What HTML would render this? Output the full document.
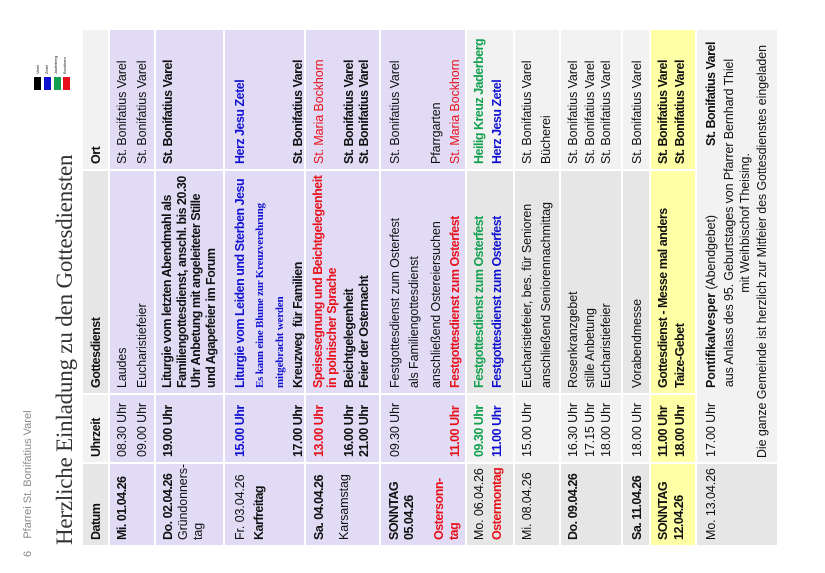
<!DOCTYPE html>
<html><head><meta charset="utf-8"><style>
html,body{margin:0;padding:0;background:#fff;width:825px;height:573px;overflow:hidden}
#f{position:absolute;left:0;top:573px;width:573px;height:825px;transform:rotate(-90deg);transform-origin:0 0;font-family:"Liberation Sans",sans-serif;}
.b{position:absolute}
.t{position:absolute;white-space:nowrap;font-size:12.5px;line-height:16px;letter-spacing:-0.1px;color:#111}
.k{font-weight:bold;letter-spacing:-0.5px}
.c1{left:33px}.c2{left:116px}.c3{left:185px}.c4{left:409px}
.L{background:#e1dbf5}.G{background:#e6e6e6}.W{background:#f2f2f2}.Y{background:#ffffa6}
.r{color:#e8101a}.bl{color:#1010d0}.g{color:#12a050}
.s{font-family:"Liberation Serif",serif;font-size:11px;font-weight:bold;letter-spacing:-0.2px}
</style></head><body><div id="f">
<div class="t" style="left:16px;top:20px;font-size:11px;color:#888;letter-spacing:0">6&nbsp;&nbsp;&nbsp;&nbsp;Pfarrei St. Bonifatius Varel</div>
<div class="t" style="left:28px;top:50px;font-family:'Liberation Serif',serif;font-size:23px;line-height:30px;letter-spacing:-0.2px;color:#333">Herzliche Einladung zu den Gottesdiensten</div>
<div class="b" style="left:483px;top:34px;width:13px;height:7px;background:#000"></div>
<div class="b" style="left:483px;top:44px;width:13px;height:7px;background:#1010d0"></div>
<div class="b" style="left:483px;top:54px;width:13px;height:7px;background:#12a050"></div>
<div class="b" style="left:483px;top:63px;width:13px;height:7px;background:#e8101a"></div>
<div class="t" style="left:499px;top:33px;font-size:4px;line-height:9px;letter-spacing:0">Varel<br>Zetel<br>Jaderberg<br>Bockhorn</div>

<!-- header -->
<div class="b G" style="left:28px;top:83px;width:81px;height:25px"></div>
<div class="b W" style="left:111px;top:83px;width:67px;height:25px"></div>
<div class="b G" style="left:180px;top:83px;width:222px;height:25px"></div>
<div class="b W" style="left:404px;top:83px;width:139px;height:25px"></div>
<div class="t k c1" style="top:88px">Datum</div><div class="t k c2" style="top:88px">Uhrzeit</div><div class="t k c3" style="top:88px">Gottesdienst</div><div class="t k c4" style="top:88px">Ort</div>

<!-- backgrounds -->
<div class="b L" style="left:28px;top:110px;width:81px;height:355px"></div>
<div class="b L" style="left:111px;top:110px;width:67px;height:355px"></div>
<div class="b L" style="left:180px;top:110px;width:222px;height:355px"></div>
<div class="b L" style="left:404px;top:110px;width:139px;height:355px"></div>
<div class="b" style="left:28px;top:154px;width:515px;height:2px;background:#fff"></div>
<div class="b" style="left:28px;top:223px;width:515px;height:2px;background:#fff"></div>
<div class="b" style="left:28px;top:304px;width:515px;height:2px;background:#fff"></div>
<div class="b" style="left:28px;top:379px;width:515px;height:2px;background:#fff"></div>

<div class="b G" style="left:28px;top:467px;width:81px;height:182px"></div>
<div class="b W" style="left:111px;top:467px;width:67px;height:182px"></div>
<div class="b G" style="left:180px;top:467px;width:222px;height:182px"></div>
<div class="b W" style="left:404px;top:467px;width:139px;height:182px"></div>
<div class="b" style="left:28px;top:513px;width:515px;height:2px;background:#fff"></div>
<div class="b" style="left:28px;top:559px;width:515px;height:2px;background:#fff"></div>
<div class="b" style="left:28px;top:621px;width:515px;height:2px;background:#fff"></div>

<div class="b Y" style="left:28px;top:651px;width:81px;height:44px"></div>
<div class="b Y" style="left:111px;top:651px;width:67px;height:44px"></div>
<div class="b Y" style="left:180px;top:651px;width:222px;height:44px"></div>
<div class="b Y" style="left:404px;top:651px;width:139px;height:44px"></div>

<div class="b G" style="left:28px;top:697px;width:81px;height:80px"></div>
<div class="b W" style="left:111px;top:697px;width:432px;height:80px"></div>

<!-- row1 -->
<div class="t k c1" style="top:114px">Mi. 01.04.26</div>
<div class="t c2" style="top:114px">08.30 Uhr</div><div class="t c2" style="top:134px">09.00 Uhr</div>
<div class="t c3" style="top:114px">Laudes</div><div class="t c3" style="top:134px">Eucharistiefeier</div>
<div class="t c4" style="top:114px">St. Bonifatius Varel</div><div class="t c4" style="top:134px">St. Bonifatius Varel</div>
<!-- row2 -->
<div class="t k c1" style="top:160px">Do. 02.04.26</div><div class="t c1" style="top:175px">Gründonners-</div><div class="t c1" style="top:190px">tag</div>
<div class="t k c2" style="top:160px">19.00 Uhr</div>
<div class="t k c3" style="top:160px;line-height:14.5px">Liturgie vom letzten Abendmahl als<br>Familiengottesdienst, anschl. bis 20.30<br>Uhr Anbetung mit angeleiteter Stille<br>und Agapefeier im Forum</div>
<div class="t k c4" style="top:160px">St. Bonifatius Varel</div>
<!-- row3 -->
<div class="t c1" style="top:232px">Fr. 03.04.26</div><div class="t k c1" style="top:251px">Karfreitag</div>
<div class="t k c2 bl" style="top:232px">15.00 Uhr</div><div class="t k c2" style="top:290px">17.00 Uhr</div>
<div class="t k c3 bl" style="top:232px">Liturgie vom Leiden und Sterben Jesu</div>
<div class="t c3 s bl" style="top:252px">Es kann eine Blume zur Kreuzverehrung</div>
<div class="t c3 s bl" style="top:272px">mitgebracht werden</div>
<div class="t k c3" style="top:290px">Kreuzweg&nbsp; für Familien</div>
<div class="t k c4 bl" style="top:232px">Herz Jesu Zetel</div><div class="t k c4" style="top:290px">St. Bonifatius Varel</div>
<!-- row4 -->
<div class="t k c1" style="top:311px">Sa. 04.04.26</div><div class="t c1" style="top:336px">Karsamstag</div>
<div class="t k c2 r" style="top:311px">13.00 Uhr</div><div class="t k c2" style="top:341px">16.00 Uhr</div><div class="t k c2" style="top:356px">21.00 Uhr</div>
<div class="t k c3 r" style="top:311px;line-height:14px">Speisesegnung und Beichtgelegenheit<br>in polnischer Sprache</div>
<div class="t k c3" style="top:341px">Beichtgelegenheit</div><div class="t k c3" style="top:356px">Feier der Osternacht</div>
<div class="t c4 r" style="top:311px">St. Maria Bockhorn</div>
<div class="t k c4" style="top:341px">St. Bonifatius Varel</div><div class="t k c4" style="top:356px">St. Bonifatius Varel</div>
<!-- row5 -->
<div class="t k c1" style="top:387px;line-height:15px">SONNTAG<br>05.04.26</div>
<div class="t k c1 r" style="top:432px;line-height:15px">Ostersonn-<br>tag</div>
<div class="t c2" style="top:387px">09.30 Uhr</div><div class="t k c2 r" style="top:447px">11.00 Uhr</div>
<div class="t c3" style="top:387px">Festgottesdienst zum Osterfest</div>
<div class="t c3" style="top:406px">als Familiengottesdienst</div>
<div class="t c3" style="top:428px">anschließend Ostereiersuchen</div>
<div class="t k c3 r" style="top:447px">Festgottesdienst zum Osterfest</div>
<div class="t c4" style="top:387px">St. Bonifatius Varel</div>
<div class="t c4" style="top:428px">Pfarrgarten</div>
<div class="t c4 r" style="top:447px">St. Maria Bockhorn</div>
<!-- row6 -->
<div class="t c1" style="top:471px">Mo. 06.04.26</div><div class="t k c1 r" style="top:489px">Ostermontag</div>
<div class="t k c2 g" style="top:471px">09.30 Uhr</div><div class="t k c2 bl" style="top:489px">11.00 Uhr</div>
<div class="t k c3 g" style="top:471px">Festgottesdienst zum Osterfest</div><div class="t k c3 bl" style="top:489px">Festgottesdienst zum Osterfest</div>
<div class="t k c4 g" style="top:471px">Heilig Kreuz Jaderberg</div><div class="t k c4 bl" style="top:489px">Herz Jesu Zetel</div>
<!-- row7 -->
<div class="t c1" style="top:519px">Mi. 08.04.26</div>
<div class="t c2" style="top:519px">15.00 Uhr</div>
<div class="t c3" style="top:519px">Eucharistiefeier, bes. für Senioren</div><div class="t c3" style="top:538px">anschließend Seniorennachmittag</div>
<div class="t c4" style="top:519px">St. Bonifatius Varel</div><div class="t c4" style="top:538px">Bücherei</div>
<!-- row8 -->
<div class="t k c1" style="top:565px">Do. 09.04.26</div>
<div class="t c2" style="top:565px;line-height:16.5px">16.30 Uhr<br>17.15 Uhr<br>18.00 Uhr</div>
<div class="t c3" style="top:565px;line-height:16.5px">Rosenkranzgebet<br>stille Anbetung<br>Eucharistiefeier</div>
<div class="t c4" style="top:565px;line-height:16.5px">St. Bonifatius Varel<br>St. Bonifatius Varel<br>St. Bonifatius Varel</div>
<!-- row9 -->
<div class="t k c1" style="top:629px">Sa. 11.04.26</div><div class="t c2" style="top:629px">18.00 Uhr</div>
<div class="t c3" style="top:629px">Vorabendmesse</div><div class="t c4" style="top:629px">St. Bonifatius Varel</div>
<!-- row10 -->
<div class="t k c1" style="top:655px;line-height:16px">SONNTAG<br>12.04.26</div>
<div class="t k c2" style="top:655px;line-height:17px">11.00 Uhr<br>18.00 Uhr</div>
<div class="t k c3" style="top:655px;line-height:17px">Gottesdienst - Messe mal anders<br>Taize-Gebet</div>
<div class="t k c4" style="top:655px;line-height:17px">St. Bonifatius Varel<br>St. Bonifatius Varel</div>
<!-- row11 -->
<div class="t c1" style="top:703px">Mo. 13.04.26</div>
<div class="t c2" style="top:703px">17.00 Uhr</div>
<div class="t c3" style="top:703px"><b>Pontifikalvesper</b> (Abendgebet)</div>
<div class="t k c4" style="top:703px;left:427px">St. Bonifatius Varel</div>
<div class="t" style="top:721px;left:160px;width:380px;text-align:center">aus Anlass des 95. Geburtstages von Pfarrer Bernhard Thiel</div>
<div class="t" style="top:737px;left:160px;width:380px;text-align:center">mit Weihbischof Theising.</div>
<div class="t" style="top:754px;left:115px">Die ganze Gemeinde ist herzlich zur Mitfeier des Gottesdienstes eingeladen</div>
</div></body></html>
